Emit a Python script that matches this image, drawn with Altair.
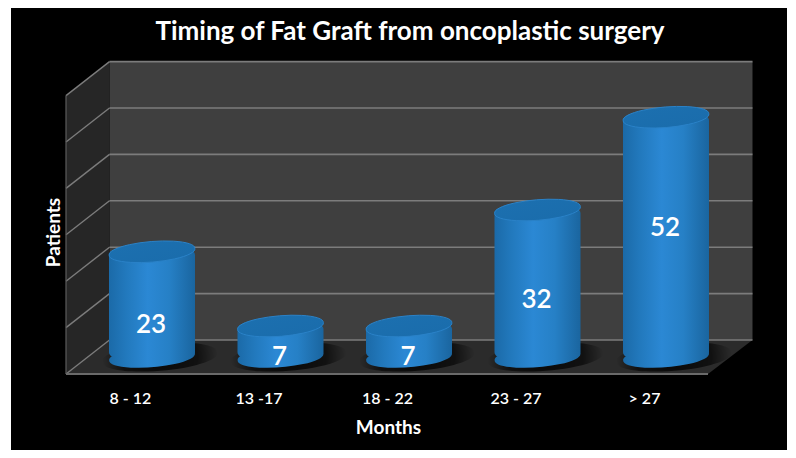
import altair as alt
import pandas as pd

categories = ["8 - 12", "13 -17", "18 - 22", "23 - 27", "> 27"]
patients = [23, 7, 7, 32, 52]
grid_ticks = [0, 10, 20, 30, 40, 50, 60]
title_text = "Timing of Fat Graft from oncoplastic surgery"

FONT = "Lato"
DEPTH_PX = 17
DEPTH_UNITS = 3.664
ELLIPSE = "M-0.996,0.08 A1,0.23,-4.6,1,1,0.996,-0.08 A1,0.23,-4.6,1,1,-0.996,0.08 Z"

bars = pd.DataFrame({"month": categories, "patients": patients, "base": [0] * 5})
ticks = pd.DataFrame({"tick": grid_ticks})
side = pd.DataFrame({"x": [55, 98.5], "y": [-DEPTH_UNITS, DEPTH_UNITS],
                     "y2": [60 - DEPTH_UNITS, 60 + DEPTH_UNITS]})
floor = pd.DataFrame({"x": [55, 98.5], "x2": [697, 741.5], "y": [-DEPTH_UNITS, DEPTH_UNITS]})
wall = pd.DataFrame({"lo": [0], "hi": [60]})

y_scale = alt.Scale(domain=[0, 60], range=[349, 70.6], nice=False, zero=False)
px_scale = alt.Scale(domain=[0, 776], range=[0, 776], nice=False, zero=False)
x_scale = alt.Scale(domain=categories, range=[76.75, 719.25], paddingInner=0, paddingOuter=0)


def stops(*pairs):
    return [alt.GradientStop(offset=o, color=c) for o, c in pairs]


body_fill = alt.LinearGradient(gradient="linear", x1=0, y1=0, x2=1, y2=0, stops=stops(
    (0, "#1b6aa8"), (0.2, "#2279bd"), (0.45, "#2b88d4"), (0.7, "#2680c6"), (1, "#1a659f")))
top_fill = alt.LinearGradient(gradient="linear", x1=0, y1=0, x2=1, y2=1, stops=stops(
    (0, "#1c70b0"), (1, "#1a6cab")))
shadow_fill = alt.RadialGradient(gradient="radial", x1=0.5, y1=0.5, r1=0, x2=0.5, y2=0.5, r2=0.5, stops=stops(
    (0, "rgba(0,0,0,0.8)"), (0.65, "rgba(0,0,0,0.6)"), (1, "rgba(0,0,0,0)")))

grid_color = "#7c7c7c"

back_wall = alt.Chart(wall).mark_rect(fill="#3f3f3f", yOffset=-DEPTH_PX, y2Offset=-DEPTH_PX).encode(
    x=alt.value(98.5), x2=alt.value(741.5),
    y=alt.Y("lo:Q", scale=y_scale, axis=None), y2="hi:Q")

side_wall = alt.Chart(side).mark_area(fill="#262626", opacity=1).encode(
    x=alt.X("x:Q", scale=px_scale, axis=None),
    y=alt.Y("y:Q", scale=y_scale, axis=None), y2="y2:Q")

floor_area = alt.Chart(floor).mark_area(fill="#2b2b2b", opacity=1, orient="horizontal").encode(
    y=alt.Y("y:Q", scale=y_scale, axis=None),
    x=alt.X("x:Q", scale=px_scale, axis=None), x2="x2:Q")

back_lines = alt.Chart(ticks).mark_rule(color=grid_color, strokeWidth=1.6, yOffset=-DEPTH_PX, y2Offset=-DEPTH_PX).encode(
    x=alt.value(98.5), x2=alt.value(741.5),
    y=alt.Y("tick:Q", scale=y_scale, axis=None), y2="tick:Q")

side_lines = alt.Chart(ticks).mark_rule(color=grid_color, strokeWidth=1.4, yOffset=DEPTH_PX, y2Offset=-DEPTH_PX).encode(
    x=alt.value(55), x2=alt.value(98.5),
    y=alt.Y("tick:Q", scale=y_scale, axis=None), y2="tick:Q")

left_edge = alt.Chart(wall).mark_rule(color="#5c5c5c", strokeWidth=1.2, yOffset=DEPTH_PX, y2Offset=DEPTH_PX).encode(
    x=alt.value(55),
    y=alt.Y("lo:Q", scale=y_scale, axis=None), y2="hi:Q")

front_edge = alt.Chart(wall).mark_rule(color="#6a6a6a", strokeWidth=2, yOffset=DEPTH_PX, y2Offset=DEPTH_PX).encode(
    x=alt.value(55), x2=alt.value(697),
    y=alt.Y("lo:Q", scale=y_scale, axis=None), y2="lo:Q")

x_band = alt.X("month:N", scale=x_scale, sort=categories, axis=None)

shadow = alt.Chart(bars).mark_point(shape=ELLIPSE, size=(2 * 58) ** 2, fill=shadow_fill, filled=True, opacity=1,
                                    strokeWidth=0, xOffset=8, yOffset=0).encode(
    x=x_band, y=alt.Y("base:Q", scale=y_scale, axis=None))

base_cap = alt.Chart(bars).mark_point(shape=ELLIPSE, size=(2 * 43) ** 2, fill=body_fill, filled=True, opacity=1,
                                      strokeWidth=0).encode(
    x=x_band, y=alt.Y("base:Q", scale=y_scale, axis=None))

body = alt.Chart(bars).mark_bar(width=86, fill=body_fill, cornerRadius=5).encode(
    x=alt.X("month:N", scale=x_scale, sort=categories,
            axis=alt.Axis(orient="bottom", offset=-60, labelPadding=0, labelOffset=-21.5, domain=False, ticks=False,
                          labelColor="white", labelFont=FONT, labelFontSize=16, labelFontWeight=600, labelAngle=0,
                          title="Months", titleColor="white", titleFont=FONT, titleFontSize=19, titleFontWeight="bold",
                          titleX=377, titleY=28, titleAnchor="middle", titleAlign="center", grid=False)),
    y=alt.Y("patients:Q", scale=y_scale,
            axis=alt.Axis(labels=False, ticks=False, domain=False, grid=False,
                          title="Patients", titleColor="white", titleFont=FONT, titleFontSize=19, titleFontWeight="bold",
                          titleX=52, titleY=224, titleAngle=270, titleAlign="center")),
    y2="base:Q")

top_cap = alt.Chart(bars).mark_point(shape=ELLIPSE, size=(2 * 43) ** 2, fill=top_fill, filled=True, opacity=1,
                                     stroke="#2a82c8", strokeWidth=1, yOffset=1.5).encode(
    x=x_band, y=alt.Y("patients:Q", scale=y_scale, axis=None))

labels = alt.Chart(bars).transform_calculate(
    label_at="0.0065*datum.patients*datum.patients+0.235*datum.patients-1.96"
).mark_text(color="white", font=FONT, fontSize=26, fontWeight=600, baseline="middle", dx=-1).encode(
    x=x_band, y=alt.Y("label_at:Q", scale=y_scale, axis=None), text="patients:Q")

chart = alt.layer(
    back_wall, side_wall, floor_area, back_lines, side_lines, left_edge, front_edge,
    shadow, base_cap, body, top_cap, labels
).resolve_scale(x="independent").resolve_axis(y="independent").properties(
    width=776, height=442,
    padding={"left": 3, "top": 0, "right": 0, "bottom": 0},
    autosize=alt.AutoSizeParams(type="none"),
    background="white",
    title=alt.TitleParams(title_text, color="white", font=FONT, fontSize=26, fontWeight="bold",
                          anchor="middle", dx=11, dy=41),
).configure_view(fill="black", stroke=None)

chart.save("out.html", embed_options={"renderer": "svg", "actions": False})
